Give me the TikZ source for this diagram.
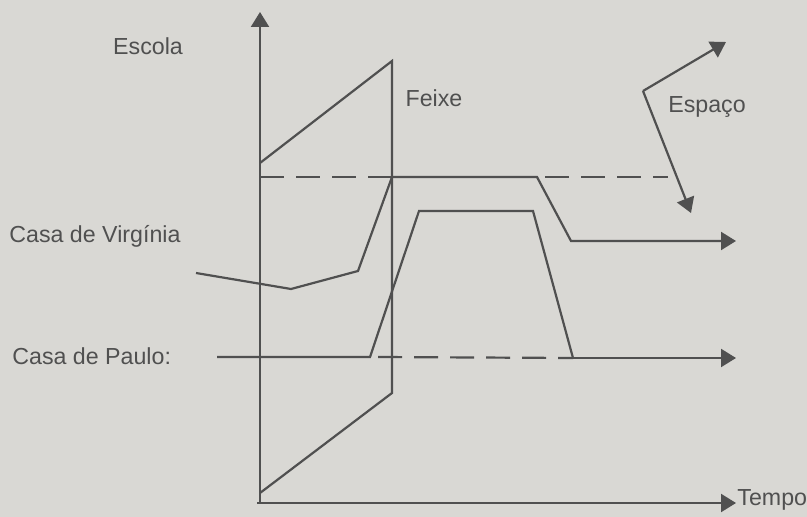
\documentclass[tikz,border=0pt]{standalone}
\usepackage{fontspec}
\setmainfont{Liberation Sans}
\usetikzlibrary{arrows.meta}
\definecolor{paper}{HTML}{D9D8D4}
\definecolor{ink}{HTML}{505050}
\tikzset{
  curve/.style={ink, line width=1.1pt, line join=miter},
  dashcurve/.style={curve, dash pattern=on 12pt off 6pt},
  tip/.style={-{Triangle[length=7.5pt,width=9pt]}},
  label/.style={text=ink, font=\fontsize{11.6}{14}\selectfont, inner sep=0pt}
}
\begin{document}
\begin{tikzpicture}[x=0.5pt, y=-0.5pt]
  % Page, in pixel units of the scan.
  \fill[paper] (0,0) rectangle (807,517);
  \useasboundingbox (0,0) rectangle (807,517);

  % Axes.
  \coordinate (origin) at (260,503);
  \coordinate (ytop) at (260,12);
  \coordinate (xend) at (736,503);
  \draw[curve, tip] (origin) -- (ytop);
  \draw[curve, tip] (257,503) -- (xend);
  \node[label, anchor=base west] (tempo) at (737,505) {Tempo};

  % School block.
  \coordinate (esc1) at (260,163);
  \coordinate (esc2) at (392,61);
  \coordinate (esc3) at (392,393);
  \coordinate (esc4) at (260,493);
  \draw[curve] (esc1) -- (esc2) -- (esc3) -- (esc4);
  \node[label, anchor=base] (escola) at (148,55) {Escola};
  \node[label, anchor=base] (feixe) at (434,107) {Feixe};

  % Casa de Virgínia.
  \coordinate (vir1) at (196,273);
  \coordinate (vir2) at (291,289);
  \coordinate (vir3) at (358,271);
  \coordinate (vir4) at (392,177);
  \coordinate (vir5) at (537,177);
  \coordinate (vir6) at (571,241);
  \coordinate (vir7) at (736,241);
  \draw[curve, tip] (vir1) -- (vir2) -- (vir3) -- (vir4) -- (vir5) -- (vir6) -- (vir7);
  \draw[dashcurve] (260,177) -- (vir4);
  \draw[dashcurve] ([xshift=4pt]vir5) -- (668,177);
  \node[label, anchor=base west] (virginia) at (9,243) {Casa de Virgínia};

  % Casa de Paulo.
  \coordinate (pau1) at (217,357);
  \coordinate (pau2) at (370,357);
  \coordinate (pau3) at (419,211);
  \coordinate (pau4) at (533,211);
  \coordinate (pau5) at (573,358);
  \coordinate (pau6) at (736,358);
  \draw[curve] (pau1) -- (pau2) -- (pau3) -- (pau4) -- (pau5);
  \draw[curve, tip] (pau5) -- (pau6);
  \draw[dashcurve] ([xshift=4pt]pau2) -- (pau5);
  \node[label, anchor=base west] (paulo) at (12,365) {Casa de Paulo:};

  % Space arrows.
  \coordinate (spc0) at (643,91);
  \coordinate (spc1) at (726,42);
  \coordinate (spc2) at (691,213);
  \draw[curve, tip] (spc0) -- (spc1);
  \draw[curve, tip] (spc0) -- (spc2);
  \node[label, anchor=base] (espaco) at (707,113) {Espaço};
\end{tikzpicture}
\end{document}
